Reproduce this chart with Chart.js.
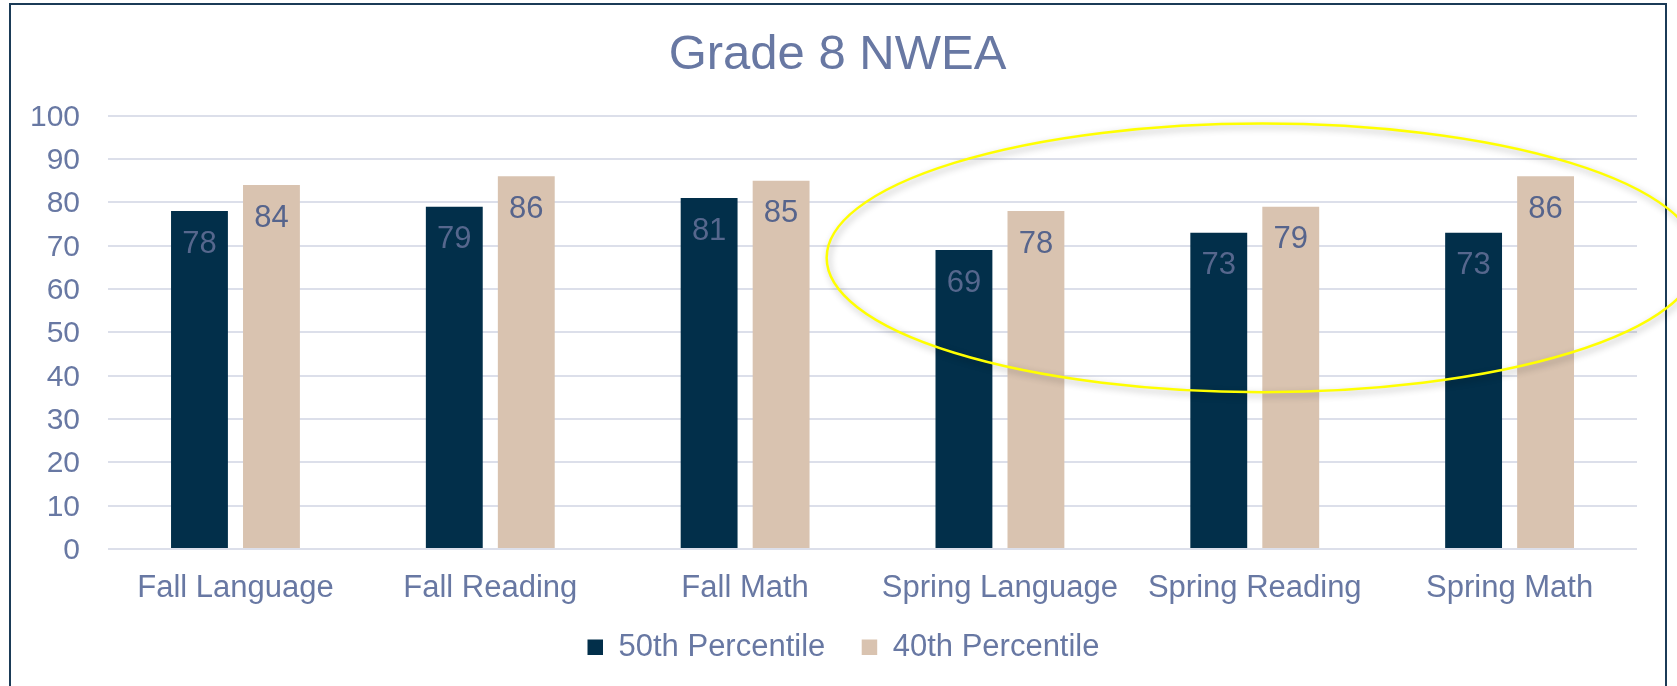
<!DOCTYPE html>
<html>
<head>
<meta charset="utf-8">
<script src="https://cdn.jsdelivr.net/npm/chart.js@4.4.0/dist/chart.umd.min.js"></script>
<style>
  html, body { margin: 0; padding: 0; background: #ffffff; }
  #wrap { width: 1677px; height: 686px; position: relative; }
</style>
</head>
<body>
<div id="wrap"><canvas id="c"></canvas></div>
<script>
// ---- data ----
const categories = ["Fall Language", "Fall Reading", "Fall Math", "Spring Language", "Spring Reading", "Spring Math"];
const seriesNames = ["50th Percentile", "40th Percentile"];
const pct50 = [78, 79, 81, 69, 73, 73];
const pct40 = [84, 86, 85, 78, 79, 86];
const yTicks = [0, 10, 20, 30, 40, 50, 60, 70, 80, 90, 100];
const chartTitle = "Grade 8 NWEA";

// ---- styles ----
const FONT = "'Liberation Sans', Arial, Helvetica, sans-serif";
const TEXT = "#6878A3";
const NAVY = "#022F4A";
const TAN = "#D9C3B0";
const GRID = "#DCDFEA";
const LABEL_COLORS = ["#56678D", "#56648C"];

// Highlight ellipse (annotation), expressed in axis units
const ellipseAnno = { xCenter: 4.03, yCenter: 67.2, xRadius: 1.71, yRadius: 31 };

const framePlugin = {
  id: "frame",
  beforeDraw(chart) {
    const ctx = chart.ctx;
    ctx.save();
    ctx.fillStyle = "#ffffff";
    ctx.fillRect(0, 0, chart.width, chart.height);
    ctx.strokeStyle = "#1B3B57";
    ctx.lineWidth = 2;
    ctx.strokeRect(10, 4, 1656, 800);
    ctx.restore();
  }
};

const valueLabels = {
  id: "valueLabels",
  afterDatasetsDraw(chart) {
    const ctx = chart.ctx;
    ctx.save();
    ctx.font = "31px " + FONT;
    ctx.textAlign = "center";
    ctx.textBaseline = "middle";
    chart.data.datasets.forEach((ds, di) => {
      const meta = chart.getDatasetMeta(di);
      ctx.fillStyle = LABEL_COLORS[di];
      meta.data.forEach((bar, i) => {
        ctx.fillText(String(ds.data[i]), bar.x, bar.y + 33);
      });
    });
    ctx.restore();
  }
};

const ellipsePlugin = {
  id: "ellipse",
  afterDraw(chart) {
    const xs = chart.scales.x, ys = chart.scales.y;
    const cx = xs.getPixelForValue(ellipseAnno.xCenter);
    const cy = ys.getPixelForValue(ellipseAnno.yCenter);
    const rx = Math.abs(xs.getPixelForValue(ellipseAnno.xCenter + ellipseAnno.xRadius) - cx);
    const ry = Math.abs(ys.getPixelForValue(ellipseAnno.yCenter + ellipseAnno.yRadius) - cy);
    const ctx = chart.ctx;
    ctx.save();
    ctx.shadowColor = "rgba(0,0,0,0.3)";
    ctx.shadowBlur = 7;
    ctx.shadowOffsetX = 2;
    ctx.shadowOffsetY = 3;
    ctx.strokeStyle = "#FFFF00";
    ctx.lineWidth = 2.5;
    ctx.beginPath();
    ctx.ellipse(cx, cy, rx, ry, 0, 0, Math.PI * 2);
    ctx.stroke();
    ctx.restore();
  }
};

// nudge title / legend blocks to their places in the original picture
const blockShift = {
  id: "blockShift",
  afterLayout(chart) {
    if (chart.legend) {
      chart.legend.left += 24; chart.legend.right += 24;
      chart.legend.top -= 13.2; chart.legend.bottom -= 13.2;
    }
    if (chart.titleBlock) { chart.titleBlock.left += 18; chart.titleBlock.right += 18; }
  }
};

new Chart(document.getElementById("c"), {
  type: "bar",
  data: {
    labels: categories,
    datasets: [
      { label: seriesNames[0], data: pct50, backgroundColor: NAVY, borderWidth: 0 },
      { label: seriesNames[1], data: pct40, backgroundColor: TAN, borderWidth: 0 }
    ]
  },
  options: {
    responsive: true,
    maintainAspectRatio: false,
    animation: false,
    devicePixelRatio: 1,
    datasets: { bar: { barPercentage: 0.79, categoryPercentage: 0.565 } },
    layout: { padding: { left: 2, right: 40, top: 0, bottom: 0 } },
    plugins: {
      title: {
        display: true,
        text: chartTitle,
        color: TEXT,
        font: { family: FONT, size: 49, weight: "normal", lineHeight: 1.2 },
        padding: { top: 25.6, bottom: 31.3 }
      },
      legend: {
        display: true,
        position: "bottom",
        labels: {
          color: TEXT,
          font: { family: FONT, size: 31 },
          boxWidth: 15.5,
          boxHeight: 15.5,
          padding: 36.4
        }
      },
      tooltip: { enabled: false }
    },
    scales: {
      x: {
        grid: { display: false, drawTicks: false },
        border: { display: false },
        afterFit(scale) { scale.height = 59.6; },
        ticks: {
          color: TEXT,
          font: { family: FONT, size: 31, lineHeight: 1.2 },
          padding: 20.7,
          maxRotation: 0,
          autoSkip: false
        }
      },
      y: {
        min: yTicks[0],
        max: yTicks[yTicks.length - 1],
        afterBuildTicks(scale) { scale.ticks = yTicks.map(v => ({ value: v })); },
        grid: { color: GRID, lineWidth: 2, drawTicks: false },
        border: { display: false },
        ticks: {
          color: TEXT,
          font: { family: FONT, size: 30 },
          padding: 28,
          labelOffset: 1.7
        }
      }
    }
  },
  plugins: [framePlugin, valueLabels, ellipsePlugin, blockShift]
});
</script>
</body>
</html>
